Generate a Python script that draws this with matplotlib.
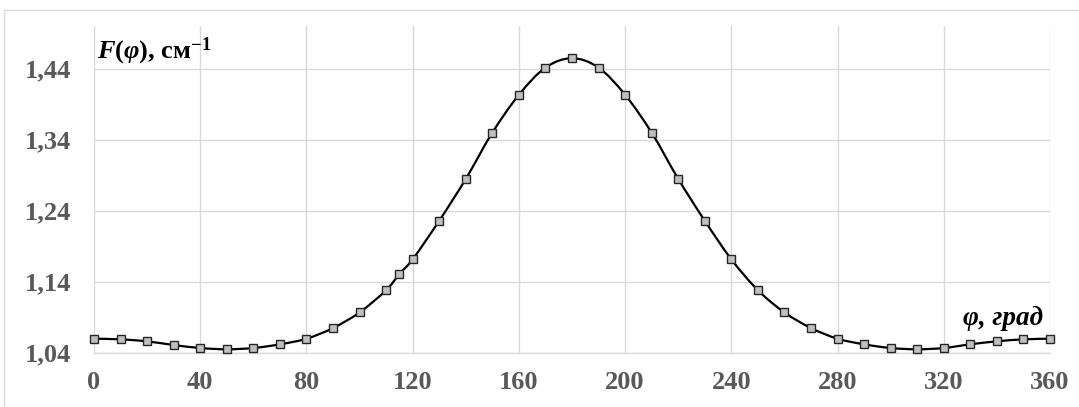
import numpy as np
import matplotlib
matplotlib.use("Agg")
import matplotlib.pyplot as plt
from matplotlib.path import Path
from matplotlib.patches import PathPatch, Rectangle

# Angle (degrees) and F(phi) values, cm^-1
phi_deg = [0, 10, 20, 30, 40, 50, 60, 70, 80, 90, 100, 110, 115, 120, 130,
           140, 150, 160, 170, 180, 190, 200, 210, 220, 230, 240, 250, 260,
           270, 280, 290, 300, 310, 320, 330, 340, 350, 360]
f_values = [1.0597, 1.0588, 1.0560, 1.0508, 1.0466, 1.0448, 1.0466, 1.0518,
            1.0597, 1.0747, 1.0967, 1.1280, 1.1509, 1.1715, 1.2258, 1.2847,
            1.3498, 1.4031, 1.4414, 1.4546, 1.4414, 1.4031, 1.3498, 1.2847,
            1.2258, 1.1715, 1.1280, 1.0967, 1.0747, 1.0597, 1.0518, 1.0466,
            1.0448, 1.0466, 1.0518, 1.0560, 1.0588, 1.0597]

x_ticks = [0, 40, 80, 120, 160, 200, 240, 280, 320, 360]
y_ticks = [1.04, 1.14, 1.24, 1.34, 1.44]
y_tick_labels = ["1,04", "1,14", "1,24", "1,34", "1,44"]

plt.rcParams["mathtext.fontset"] = "custom"
plt.rcParams["mathtext.rm"] = "Liberation Serif:bold"
plt.rcParams["mathtext.it"] = "Liberation Serif:bold:italic"
plt.rcParams["mathtext.bf"] = "Liberation Serif:bold"

SERIF = "Liberation Serif"
GRID = "#D9D9D9"
TICK_COLOR = "#595959"

fig = plt.figure(figsize=(10.79, 4.07), dpi=100)
W, H = 1079, 407

# outer chart frame (only top and left edges fall inside the image)
fig.patches.append(Rectangle((4 / W, -0.1), 1.2, (H - 10) / H + 0.1,
                             transform=fig.transFigure, fill=False,
                             edgecolor=GRID, linewidth=1.0))

ax = fig.add_axes([94 / W, (H - 352.7) / H, (1050 - 94) / W, (352.7 - 26) / H])
ax.set_xlim(0, 360)
ax.set_ylim(1.04, 1.50)

for s in ("top", "right", "left"):
    ax.spines[s].set_visible(False)
ax.spines["bottom"].set_color(GRID)
ax.spines["bottom"].set_linewidth(1.0)

ax.set_xticks(x_ticks)
ax.set_xticklabels([str(v) for v in x_ticks])
ax.set_yticks(y_ticks)
ax.set_yticklabels(y_tick_labels)
ax.tick_params(axis="both", length=0, colors=TICK_COLOR)
ax.tick_params(axis="x", pad=13.5)
ax.tick_params(axis="y", pad=16.5)
for lab in ax.get_xticklabels() + ax.get_yticklabels():
    lab.set_fontfamily(SERIF)
    lab.set_fontweight("bold")
    lab.set_fontsize(19)
    lab.set_color(TICK_COLOR)

ax.grid(True, color=GRID, linewidth=1.0)
ax.set_axisbelow(True)

# smoothed curve: cubic Bezier segments through the data points
x = np.asarray(phi_deg, float)
y = np.asarray(f_values, float)
pts = np.column_stack([x, y])
ext = np.vstack([pts[0], pts, pts[-1]])
verts = [tuple(pts[0])]
codes = [Path.MOVETO]
for i in range(len(pts) - 1):
    p0, p1, p2, p3 = ext[i], ext[i + 1], ext[i + 2], ext[i + 3]
    c1 = p1 + (p2 - p0) / 6.0
    c2 = p2 - (p3 - p1) / 6.0
    verts += [tuple(c1), tuple(c2), tuple(p2)]
    codes += [Path.CURVE4, Path.CURVE4, Path.CURVE4]
curve = PathPatch(Path(verts, codes), facecolor="none", edgecolor="black",
                  linewidth=1.6, zorder=3, transform=ax.transData)
ax.add_patch(curve)

ax.plot(x, y, linestyle="none", marker="s", markersize=5.6,
        markerfacecolor="#BFBFBF", markeredgecolor="#262626",
        markeredgewidth=1.0, zorder=4, clip_on=False)

ax.text(0.003, 0.902, r"$F(φ)$, см$^{-1}$", transform=ax.transAxes,
        fontfamily=SERIF, fontweight="bold", fontsize=19, color="black",
        ha="left", va="baseline")
ax.text(0.9927, 0.085, "φ, град", transform=ax.transAxes,
        fontfamily=SERIF, fontweight="bold", fontstyle="italic", fontsize=19.5,
        color="black", ha="right", va="baseline")

fig.savefig("out.png", dpi=100)
